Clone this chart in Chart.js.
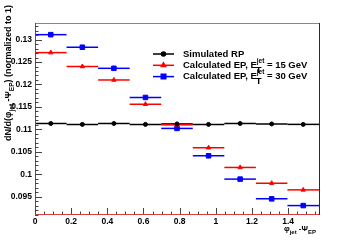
<!DOCTYPE html>
<html>
<head>
<meta charset="utf-8">
<script src="https://cdn.jsdelivr.net/npm/chart.js@4"></script>
<style>
    html, body { margin:0; padding:0; background:#fff; }
    #c { display:block; }
</style>
</head>
<body>
<canvas id="c" width="354" height="240"></canvas>
<script>

// bin centres in phi_jet - Psi_EP (9 bins from 0 to pi/2)
const binCenters = [0.0873, 0.2618, 0.4363, 0.6109, 0.7854, 0.9599, 1.1345, 1.3090, 1.4835];
const binHalfWidth = Math.PI / 36;

const simulatedRP = [0.1113, 0.1111, 0.1113, 0.1111, 0.1112, 0.1111, 0.1113, 0.1112, 0.1111];
const calcEP15 = [0.1271, 0.1240, 0.1210, 0.1156, 0.1110, 0.1059, 0.1015, 0.0980, 0.0965];
const calcEP30 = [0.1311, 0.1283, 0.1236, 0.1171, 0.1102, 0.1041, 0.0989, 0.0945, 0.0930];

const xTicks = [0, 0.2, 0.4, 0.6, 0.8, 1, 1.2, 1.4];
const yTicks = [0.095, 0.1, 0.105, 0.11, 0.115, 0.12, 0.125, 0.13];

const FONT = "Liberation Sans, Arial, sans-serif";


function toPoints(values) {
    return values.map((v, i) => ({ x: binCenters[i], y: v }));
}


// draw a run of text pieces: [text, size, dy]
function richWidth(ctx, parts) {
    let w = 0;
    for (const p of parts) {
        ctx.font = "bold " + p[1] + "px " + FONT;
        w += ctx.measureText(p[0]).width;
    }
    return w;
}

function drawRich(ctx, parts, x, y) {
    let cx = x;
    for (const p of parts) {
        ctx.font = "bold " + p[1] + "px " + FONT;
        ctx.fillText(p[0], cx, y + p[2]);
        cx += ctx.measureText(p[0]).width;
    }
}


const errorBars = {
    id: "errorBars",
    beforeDatasetsDraw(chart) {
        const ctx = chart.ctx;
        const xs = chart.scales.x;
        ctx.save();
        chart.data.datasets.forEach((ds, di) => {
            const meta = chart.getDatasetMeta(di);
            ctx.strokeStyle = ds.borderColor;
            ctx.lineWidth = 1.5;
            meta.data.forEach((pt, i) => {
                const c = ds.data[i].x;
                ctx.beginPath();
                ctx.moveTo(xs.getPixelForValue(c - binHalfWidth), pt.y);
                ctx.lineTo(xs.getPixelForValue(c + binHalfWidth), pt.y);
                ctx.stroke();
            });
        });
        ctx.restore();
    }
};


const frame = {
    id: "frame",
    afterDraw(chart) {
        const ctx = chart.ctx;
        const a = chart.chartArea;
        const xs = chart.scales.x;
        const ys = chart.scales.y;

        ctx.save();
        ctx.lineWidth = 1;

        // frame
        ctx.strokeStyle = "#888";
        ctx.beginPath();
        ctx.moveTo(a.left, a.top + 0.5);
        ctx.lineTo(a.right, a.top + 0.5);
        ctx.stroke();

        ctx.strokeStyle = "#6b1010";
        ctx.beginPath();
        ctx.moveTo(a.right + 0.5, a.top);
        ctx.lineTo(a.right + 0.5, a.bottom);
        ctx.stroke();

        ctx.strokeStyle = "#555";
        ctx.beginPath();
        ctx.moveTo(a.left + 0.5, a.top);
        ctx.lineTo(a.left + 0.5, a.bottom);
        ctx.stroke();

        // inward ticks
        ctx.strokeStyle = "#444";
        for (let v = 0.091; v < 0.1337; v += 0.001) {
            const y = Math.round(ys.getPixelForValue(v)) + 0.5;
            const major = Math.abs(v * 200 - Math.round(v * 200)) < 0.01;
            ctx.beginPath();
            ctx.moveTo(a.left, y);
            ctx.lineTo(a.left + (major ? 7 : 3.5), y);
            ctx.stroke();
        }
        for (let v = 0; v < Math.PI / 2; v += 0.05) {
            const x = Math.round(xs.getPixelForValue(v)) + 0.5;
            const major = Math.abs(v * 5 - Math.round(v * 5)) < 0.01;
            ctx.beginPath();
            ctx.moveTo(x, a.bottom);
            ctx.lineTo(x, a.bottom - (major ? 7 : 3.5));
            ctx.stroke();
        }

        ctx.strokeStyle = "#d04040";
        ctx.beginPath();
        ctx.moveTo(a.left, a.bottom - 0.5);
        ctx.lineTo(a.right, a.bottom - 0.5);
        ctx.stroke();

        // axis titles
        ctx.fillStyle = "#000";
        ctx.textBaseline = "alphabetic";
        const xt = [["\u03c6", 8, 0], ["jet", 6, 3], [" -\u03a8", 8, 0], ["EP", 6, 3]];
        drawRich(ctx, xt, a.right - 3 - richWidth(ctx, xt), 231);

        const yt = [["dN/d(\u03c6", 9, 0], ["jet", 6.5, 3], [" -\u03a8", 9, 0], ["EP", 6.5, 3], [") (normalized to 1)", 9, 0]];
        ctx.translate(11, 5);
        ctx.rotate(-Math.PI / 2);
        drawRich(ctx, yt, -richWidth(ctx, yt), 0);
        ctx.restore();

        // legend
        const rows = [
            { color: "#000", style: "circle", r: 2, parts: [["Simulated RP", 9.5, 0]] },
            { color: "#ff0000", style: "triangle", r: 2.5, parts: [["Calculated EP, E", 9.5, 0], ["jet", 6.5, -4], [" = 15 GeV", 9.5, 0]] },
            { color: "#0000ff", style: "rect", r: 3.2, parts: [["Calculated EP, E", 9.5, 0], ["jet", 6.5, -4], [" = 30 GeV", 9.5, 0]] }
        ];
        ctx.save();
        rows.forEach((row, i) => {
            const y = 54 + i * 11.3;
            ctx.strokeStyle = row.color;
            ctx.fillStyle = row.color;
            ctx.lineWidth = 1.5;
            ctx.beginPath();
            ctx.moveTo(153, y);
            ctx.lineTo(174, y);
            ctx.stroke();
            Chart.helpers.drawPoint(ctx, { pointStyle: row.style, radius: row.r, borderWidth: 1 }, 163.5, y);
            ctx.fill();
            ctx.fillStyle = "#000";
            ctx.textBaseline = "middle";
            drawRich(ctx, row.parts, 183, y);
            if (i > 0) {
                ctx.font = "bold 6.5px " + FONT;
                const w = richWidth(ctx, [row.parts[0]]);
                ctx.fillText("T", 183 + w - 1, y + 5);
            }
        });
        ctx.restore();
    }
};


new Chart(

    document.getElementById("c"),

    {

        type: "scatter",

        data: {

            datasets: [

                {
                    label: "Simulated RP",
                    data: toPoints(simulatedRP),
                    borderColor: "#000000",
                    backgroundColor: "#000000",
                    pointStyle: "circle",
                    pointRadius: 2
                },

                {
                    label: "Calculated EP, 15 GeV",
                    data: toPoints(calcEP15),
                    borderColor: "#ff0000",
                    backgroundColor: "#ff0000",
                    pointStyle: "triangle",
                    pointRadius: 2.5
                },

                {
                    label: "Calculated EP, 30 GeV",
                    data: toPoints(calcEP30),
                    borderColor: "#0000ff",
                    backgroundColor: "#0000ff",
                    pointStyle: "rect",
                    pointRadius: 3.2
                }

            ]

        },

        options: {

            responsive: false,
            animation: false,

            layout: {
                padding: { top: 23, right: 35, left: 0, bottom: 0 }
            },

            plugins: {
                legend: { display: false },
                tooltip: { enabled: false }
            },

            scales: {

                x: {
                    type: "linear",
                    min: 0,
                    max: Math.PI / 2,
                    afterFit: (s) => { s.height = 25; },
                    afterBuildTicks: (s) => { s.ticks = xTicks.map(v => ({ value: v })); },
                    grid: { display: false, drawTicks: false },
                    border: { display: false },
                    ticks: {
                        padding: 2,
                        color: "#000",
                        font: { family: FONT, size: 8.5, weight: "bold" },
                        callback: (v) => String(+v.toFixed(2))
                    }
                },

                y: {
                    min: 0.0909,
                    max: 0.1337,
                    afterFit: (s) => { s.width = 35; },
                    afterBuildTicks: (s) => { s.ticks = yTicks.map(v => ({ value: v })); },
                    grid: { display: false, drawTicks: false },
                    border: { display: false },
                    ticks: {
                        padding: 3,
                        color: "#000",
                        font: { family: FONT, size: 8.5, weight: "bold" },
                        callback: (v) => String(+v.toFixed(3))
                    }
                }

            }

        },

        plugins: [errorBars, frame]

    }

);

</script>
</body>
</html>
